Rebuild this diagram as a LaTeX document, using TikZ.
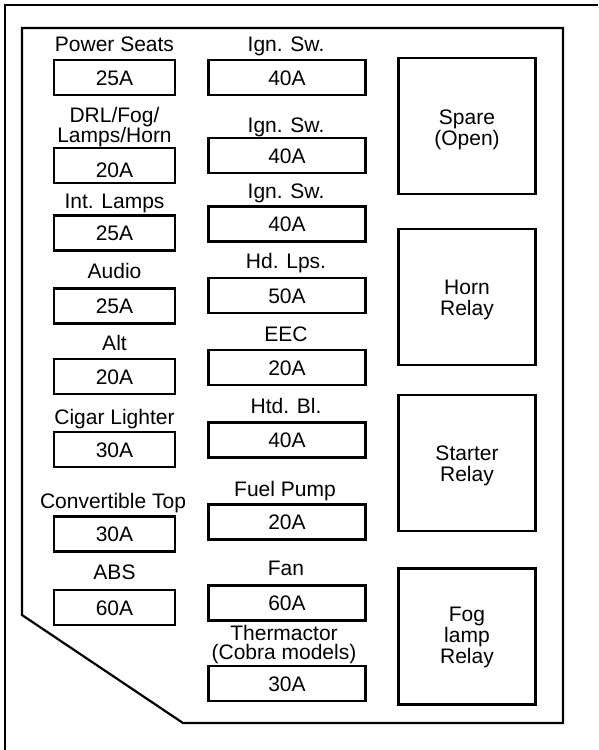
\documentclass[tikz,border=0pt]{standalone}
\usepackage{fontspec}
\setmainfont{Liberation Sans}
\newcommand\fz{\fontsize{21pt}{21pt}\selectfont}
\begin{document}
\begin{tikzpicture}[x=1pt,y=-1pt,
  frameline/.style={line width=2pt},
  panel/.style={line width=2.2pt, line join=miter},
  fuse/.style={draw, line width=2.8pt, minimum width=121pt, minimum height=35pt,
    inner sep=0pt, text height=15pt, text depth=0pt, font=\fz},
  fusewide/.style={fuse, minimum width=157pt},
  relay/.style={draw, line width=2.8pt, minimum width=137pt, minimum height=136pt,
    inner sep=0pt, align=center, font=\fontsize{21pt}{21pt}\selectfont},
  relaytext/.style={align=center, inner sep=0pt, font=\fontsize{21pt}{21pt}\selectfont},
  lbl/.style={anchor=base, inner sep=0pt, font=\fz}
]
\useasboundingbox (0,0) rectangle (598,750);
\fill[white] (0,0) rectangle (598,750);
% outer frame
\coordinate (fa) at (5,750);
\coordinate (fb) at (5,5);
\coordinate (fc) at (598,5);
\draw[frameline] (fa) -- (fb) -- (fc);
% panel outline
\coordinate (p1) at (22,28);
\coordinate (p2) at (563,28);
\coordinate (p3) at (563,723);
\coordinate (p4) at (183,723);
\coordinate (p5) at (22,615);
\draw[panel] (p1) -- (p2) -- (p3) -- (p4) -- (p5) -- cycle;

% left column
\node[lbl] (lPS) at (114.5,51) {Power Seats};
\node[fuse] (fPS) at (114.5,77.5) {25A};
\node[lbl] (lDRL1) at (114.5,122) {DRL/Fog/};
\node[lbl] (lDRL2) at (114.5,142) {Lamps/Horn};
\node[fuse, text height=23pt] (fDRL) at (114.5,165.5) {20A};
\node[lbl] (lIL) at (114.5,208) {Int. Lamps};
\node[fuse] (fIL) at (114.5,233) {25A};
\node[lbl] (lAU) at (114.5,278) {Audio};
\node[fuse] (fAU) at (114.5,306) {25A};
\node[lbl] (lAL) at (114.5,350) {Alt};
\node[fuse] (fAL) at (114.5,376.5) {20A};
\node[lbl] (lCL) at (114.5,424) {Cigar Lighter};
\node[fuse] (fCL) at (114.5,449.5) {30A};
\node[lbl] (lCT) at (113,508) {Convertible Top};
\node[fuse] (fCT) at (114.5,534) {30A};
\node[lbl] (lAB) at (114.5,579) {ABS};
\node[fuse] (fAB) at (114.5,607.5) {60A};

% middle column
\node[lbl] (lI1) at (286,51) {Ign. Sw.};
\node[fusewide] (fI1) at (287,77.5) {40A};
\node[lbl] (lI2) at (286,132) {Ign. Sw.};
\node[fusewide] (fI2) at (287,155.5) {40A};
\node[lbl] (lI3) at (286,198) {Ign. Sw.};
\node[fusewide] (fI3) at (287,224) {40A};
\node[lbl] (lHL) at (286,268) {Hd. Lps.};
\node[fusewide] (fHL) at (287,295.5) {50A};
\node[lbl] (lEE) at (286,341) {EEC};
\node[fusewide] (fEE) at (287,367.5) {20A};
\node[lbl] (lHB) at (286,413) {Htd. Bl.};
\node[fusewide] (fHB) at (287,440) {40A};
\node[lbl] (lFP) at (285,496) {Fuel Pump};
\node[fusewide] (fFP) at (287,522) {20A};
\node[lbl] (lFA) at (286,575) {Fan};
\node[fusewide] (fFA) at (287,603) {60A};
\node[lbl] (lTH1) at (284,640) {Thermactor};
\node[lbl] (lTH2) at (284,659) {(Cobra models)};
\node[fusewide] (fTH) at (287,683.5) {30A};

% relays
\node[relay] (rSP) at (467,126) {};
\node[relaytext] (tSP) at (467,130) {Spare\\(Open)};
\node[relay] (rHO) at (467,297) {};
\node[relaytext] (tHO) at (467,300) {Horn\\Relay};
\node[relay] (rST) at (467,463) {};
\node[relaytext] (tST) at (467,466) {Starter\\Relay};
\node[relay] (rFO) at (467,636.5) {};
\node[relaytext] (tFO) at (467,637) {Fog\\lamp\\Relay};
\end{tikzpicture}
\end{document}
